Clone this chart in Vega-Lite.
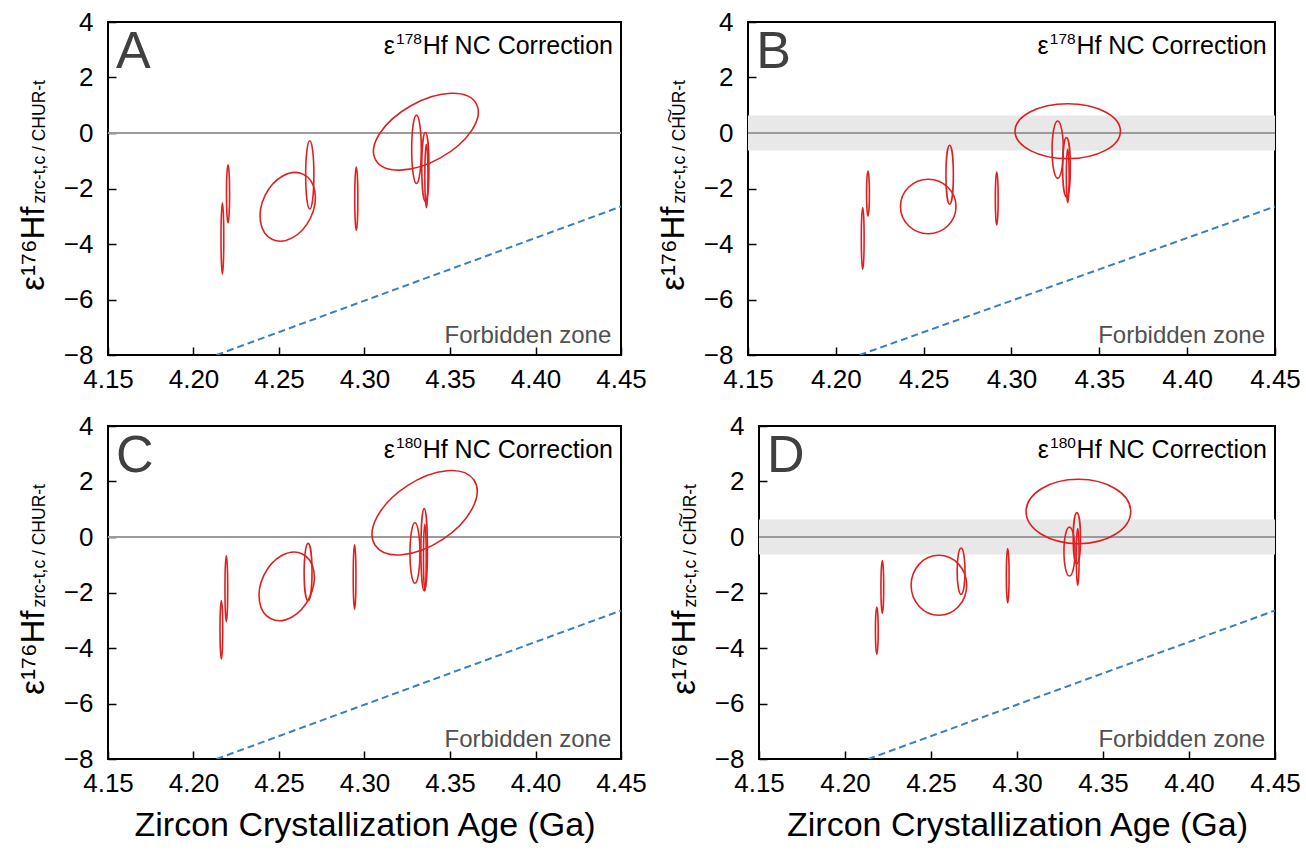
{
"$schema":"https://vega.github.io/schema/vega-lite/v6.json",
"padding":{"left":16,"top":8,"right":0,"bottom":0},
"spacing":19,
"config":{"font":"Liberation Sans","view":{"stroke":"#000","strokeWidth":2},
 "axis":{"labelFont":"Liberation Sans","labelFontSize":26,"labelColor":"#000","tickColor":"#000","tickSize":-8,"tickWidth":1.5,"domain":false,"grid":false,"titleFont":"Liberation Sans","titleColor":"#000","titleFontWeight":"normal","labelFlush":false,"labelOverlap":false},
 "axisX":{"labelPadding":19},"axisY":{"labelPadding":23},
 "text":{"font":"Liberation Sans"}},
"datasets":{
 "dash":[{"x":4.2135,"y":-8},{"x":4.45,"y":-2.65}],
 "ell":[
 {"p":"A","e":1,"k":0,"x":4.2169,"y":-2.52},{"p":"A","e":1,"k":1,"x":4.2177,"y":-3.8},{"p":"A","e":1,"k":2,"x":4.2169,"y":-5.08},{"p":"A","e":1,"k":3,"x":4.2161,"y":-3.8},
 {"p":"A","e":2,"k":0,"x":4.2202,"y":-1.15},{"p":"A","e":2,"k":1,"x":4.2211,"y":-2.195},{"p":"A","e":2,"k":2,"x":4.2202,"y":-3.24},{"p":"A","e":2,"k":3,"x":4.2193,"y":-2.195},
 {"p":"A","e":3,"k":0,"x":4.2643,"y":-1.492},{"p":"A","e":3,"k":1,"x":4.2684,"y":-3.063},{"p":"A","e":3,"k":2,"x":4.2459,"y":-3.827},{"p":"A","e":3,"k":3,"x":4.2418,"y":-2.256},
 {"p":"A","e":4,"k":0,"x":4.268,"y":-0.28},{"p":"A","e":4,"k":1,"x":4.2704,"y":-1.51},{"p":"A","e":4,"k":2,"x":4.268,"y":-2.74},{"p":"A","e":4,"k":3,"x":4.2656,"y":-1.51},
 {"p":"A","e":5,"k":0,"x":4.2952,"y":-1.225},{"p":"A","e":5,"k":1,"x":4.2961,"y":-2.365},{"p":"A","e":5,"k":2,"x":4.2952,"y":-3.505},{"p":"A","e":5,"k":3,"x":4.2943,"y":-2.365},
 {"p":"A","e":6,"k":0,"x":4.3653,"y":1.059},{"p":"A","e":6,"k":1,"x":4.3444,"y":-0.897},{"p":"A","e":6,"k":2,"x":4.3065,"y":-0.966},{"p":"A","e":6,"k":3,"x":4.3274,"y":0.991},
 {"p":"A","e":7,"k":0,"x":4.3304,"y":0.645},{"p":"A","e":7,"k":1,"x":4.3332,"y":-0.587},{"p":"A","e":7,"k":2,"x":4.3304,"y":-1.819},{"p":"A","e":7,"k":3,"x":4.3276,"y":-0.587},
 {"p":"A","e":8,"k":0,"x":4.3356,"y":0.018},{"p":"A","e":8,"k":1,"x":4.3377,"y":-1.225},{"p":"A","e":8,"k":2,"x":4.3356,"y":-2.468},{"p":"A","e":8,"k":3,"x":4.3335,"y":-1.225},
 {"p":"A","e":9,"k":0,"x":4.3362,"y":-0.41},{"p":"A","e":9,"k":1,"x":4.3371,"y":-1.55},{"p":"A","e":9,"k":2,"x":4.3362,"y":-2.69},{"p":"A","e":9,"k":3,"x":4.3353,"y":-1.55},

 {"p":"B","e":1,"k":0,"x":4.2153,"y":-2.69},{"p":"B","e":1,"k":1,"x":4.2161,"y":-3.8},{"p":"B","e":1,"k":2,"x":4.2153,"y":-4.91},{"p":"B","e":1,"k":3,"x":4.2145,"y":-3.8},
 {"p":"B","e":2,"k":0,"x":4.2183,"y":-1.37},{"p":"B","e":2,"k":1,"x":4.2191,"y":-2.18},{"p":"B","e":2,"k":2,"x":4.2183,"y":-2.99},{"p":"B","e":2,"k":3,"x":4.2175,"y":-2.18},
 {"p":"B","e":3,"k":0,"x":4.2526,"y":-1.669},{"p":"B","e":3,"k":1,"x":4.2684,"y":-2.649},{"p":"B","e":3,"k":2,"x":4.2526,"y":-3.629},{"p":"B","e":3,"k":3,"x":4.2368,"y":-2.649},
 {"p":"B","e":4,"k":0,"x":4.2648,"y":-0.443},{"p":"B","e":4,"k":1,"x":4.2669,"y":-1.506},{"p":"B","e":4,"k":2,"x":4.2648,"y":-2.569},{"p":"B","e":4,"k":3,"x":4.2627,"y":-1.506},
 {"p":"B","e":5,"k":0,"x":4.2916,"y":-1.405},{"p":"B","e":5,"k":1,"x":4.2924,"y":-2.36},{"p":"B","e":5,"k":2,"x":4.2916,"y":-3.315},{"p":"B","e":5,"k":3,"x":4.2908,"y":-2.36},
 {"p":"B","e":6,"k":0,"x":4.332,"y":1.055},{"p":"B","e":6,"k":1,"x":4.362,"y":0.065},{"p":"B","e":6,"k":2,"x":4.332,"y":-0.925},{"p":"B","e":6,"k":3,"x":4.302,"y":0.065},
 {"p":"B","e":7,"k":0,"x":4.3263,"y":0.433},{"p":"B","e":7,"k":1,"x":4.3295,"y":-0.601},{"p":"B","e":7,"k":2,"x":4.3263,"y":-1.635},{"p":"B","e":7,"k":3,"x":4.3231,"y":-0.601},
 {"p":"B","e":8,"k":0,"x":4.3313,"y":-0.166},{"p":"B","e":8,"k":1,"x":4.3335,"y":-1.236},{"p":"B","e":8,"k":2,"x":4.3313,"y":-2.306},{"p":"B","e":8,"k":3,"x":4.3291,"y":-1.236},
 {"p":"B","e":9,"k":0,"x":4.332,"y":-0.59},{"p":"B","e":9,"k":1,"x":4.3328,"y":-1.55},{"p":"B","e":9,"k":2,"x":4.332,"y":-2.51},{"p":"B","e":9,"k":3,"x":4.3312,"y":-1.55},

 {"p":"C","e":1,"k":0,"x":4.2163,"y":-2.29},{"p":"C","e":1,"k":1,"x":4.2171,"y":-3.345},{"p":"C","e":1,"k":2,"x":4.2163,"y":-4.4},{"p":"C","e":1,"k":3,"x":4.2155,"y":-3.345},
 {"p":"C","e":2,"k":0,"x":4.2192,"y":-0.68},{"p":"C","e":2,"k":1,"x":4.22,"y":-1.865},{"p":"C","e":2,"k":2,"x":4.2192,"y":-3.05},{"p":"C","e":2,"k":3,"x":4.2184,"y":-1.865},
 {"p":"C","e":3,"k":0,"x":4.2637,"y":-0.612},{"p":"C","e":3,"k":1,"x":4.2678,"y":-2.183},{"p":"C","e":3,"k":2,"x":4.2453,"y":-2.947},{"p":"C","e":3,"k":3,"x":4.2412,"y":-1.376},
 {"p":"C","e":4,"k":0,"x":4.267,"y":-0.229},{"p":"C","e":4,"k":1,"x":4.2693,"y":-1.264},{"p":"C","e":4,"k":2,"x":4.267,"y":-2.299},{"p":"C","e":4,"k":3,"x":4.2647,"y":-1.264},
 {"p":"C","e":5,"k":0,"x":4.2942,"y":-0.28},{"p":"C","e":5,"k":1,"x":4.295,"y":-1.44},{"p":"C","e":5,"k":2,"x":4.2942,"y":-2.6},{"p":"C","e":5,"k":3,"x":4.2934,"y":-1.44},
 {"p":"C","e":6,"k":0,"x":4.3641,"y":2.045},{"p":"C","e":6,"k":1,"x":4.3455,"y":-0.096},{"p":"C","e":6,"k":2,"x":4.3062,"y":-0.297},{"p":"C","e":6,"k":3,"x":4.3249,"y":1.844},
 {"p":"C","e":7,"k":0,"x":4.3295,"y":0.516},{"p":"C","e":7,"k":1,"x":4.3324,"y":-0.574},{"p":"C","e":7,"k":2,"x":4.3295,"y":-1.664},{"p":"C","e":7,"k":3,"x":4.3266,"y":-0.574},
 {"p":"C","e":8,"k":0,"x":4.3349,"y":1.024},{"p":"C","e":8,"k":1,"x":4.3368,"y":-0.456},{"p":"C","e":8,"k":2,"x":4.3349,"y":-1.936},{"p":"C","e":8,"k":3,"x":4.333,"y":-0.456},
 {"p":"C","e":9,"k":0,"x":4.3353,"y":0.457},{"p":"C","e":9,"k":1,"x":4.3361,"y":-0.743},{"p":"C","e":9,"k":2,"x":4.3353,"y":-1.943},{"p":"C","e":9,"k":3,"x":4.3345,"y":-0.743},

 {"p":"D","e":1,"k":0,"x":4.2185,"y":-2.52},{"p":"D","e":1,"k":1,"x":4.2193,"y":-3.37},{"p":"D","e":1,"k":2,"x":4.2185,"y":-4.22},{"p":"D","e":1,"k":3,"x":4.2177,"y":-3.37},
 {"p":"D","e":2,"k":0,"x":4.2217,"y":-0.85},{"p":"D","e":2,"k":1,"x":4.2225,"y":-1.8},{"p":"D","e":2,"k":2,"x":4.2217,"y":-2.75},{"p":"D","e":2,"k":3,"x":4.2209,"y":-1.8},
 {"p":"D","e":3,"k":0,"x":4.2546,"y":-0.66},{"p":"D","e":3,"k":1,"x":4.27076,"y":-1.741},{"p":"D","e":3,"k":2,"x":4.2546,"y":-2.822},{"p":"D","e":3,"k":3,"x":4.23844,"y":-1.741},
 {"p":"D","e":4,"k":0,"x":4.2675,"y":-0.397},{"p":"D","e":4,"k":1,"x":4.2698,"y":-1.232},{"p":"D","e":4,"k":2,"x":4.2675,"y":-2.067},{"p":"D","e":4,"k":3,"x":4.2652,"y":-1.232},
 {"p":"D","e":5,"k":0,"x":4.2946,"y":-0.42},{"p":"D","e":5,"k":1,"x":4.2954,"y":-1.395},{"p":"D","e":5,"k":2,"x":4.2946,"y":-2.37},{"p":"D","e":5,"k":3,"x":4.2938,"y":-1.395},
 {"p":"D","e":6,"k":0,"x":4.3357,"y":2.079},{"p":"D","e":6,"k":1,"x":4.3661,"y":0.919},{"p":"D","e":6,"k":2,"x":4.3357,"y":-0.241},{"p":"D","e":6,"k":3,"x":4.3053,"y":0.919},
 {"p":"D","e":7,"k":0,"x":4.3305,"y":0.36},{"p":"D","e":7,"k":1,"x":4.3337,"y":-0.523},{"p":"D","e":7,"k":2,"x":4.3305,"y":-1.406},{"p":"D","e":7,"k":3,"x":4.3273,"y":-0.523},
 {"p":"D","e":8,"k":0,"x":4.3348,"y":0.877},{"p":"D","e":8,"k":1,"x":4.3369,"y":-0.043},{"p":"D","e":8,"k":2,"x":4.3348,"y":-0.963},{"p":"D","e":8,"k":3,"x":4.3327,"y":-0.043},
 {"p":"D","e":9,"k":0,"x":4.3353,"y":0.3},{"p":"D","e":9,"k":1,"x":4.3361,"y":-0.72},{"p":"D","e":9,"k":2,"x":4.3353,"y":-1.74},{"p":"D","e":9,"k":3,"x":4.3345,"y":-0.72}
 ]},
"vconcat":[
 {"hconcat":[
  {"width":513,"height":333,
   "layer":[
    {"layer":[
     {"data":{"values":[{}]},"mark":{"type":"rule","color":"#9b9b9b","strokeWidth":2},"encoding":{"y":{"datum":0,"type":"quantitative","scale":{"domain":[-8,4],"nice":false,"zero":false}}}},
     {"data":{"name":"dash"},"mark":{"type":"line","color":"#3a7fbf","strokeWidth":2,"strokeDash":[7,4],"clip":true},"encoding":{"x":{"field":"x","type":"quantitative","scale":{"domain":[4.15,4.45],"nice":false,"zero":false}},"y":{"field":"y","type":"quantitative","scale":{"domain":[-8,4],"nice":false,"zero":false}}}},
     {"data":{"name":"ell"},"transform":[{"filter":"datum.p==='A'"}],"mark":{"type":"line","interpolate":"cardinal-closed","tension":-0.657,"color":"#e02020","strokeWidth":1.6},
      "encoding":{"x":{"field":"x","type":"quantitative","scale":{"domain":[4.15,4.45],"nice":false,"zero":false},"axis":{"values":[4.15,4.2,4.25,4.3,4.35,4.4,4.45],"format":".2f","title":null}},
       "y":{"field":"y","type":"quantitative","scale":{"domain":[-8,4],"nice":false,"zero":false},"axis":{"values":[-8,-6,-4,-2,0,2,4],"title":"ε¹⁷⁶Hf","titleFontSize":33,"titleAngle":-90,"titleAlign":"right","titleBaseline":"alphabetic","titleX":-65,"titleY":184}},
       "detail":{"field":"e"},"order":{"field":"k","type":"quantitative"}}},
     {"data":{"values":[{}]},"mark":{"type":"text","text":"A","fontSize":52,"color":"#404040","align":"left","baseline":"alphabetic"},"encoding":{"x":{"datum":4.1547,"type":"quantitative"},"y":{"datum":2.34,"type":"quantitative"}}},
     {"data":{"values":[{}]},"mark":{"type":"text","text":"Hf NC Correction","fontSize":25,"color":"#000","align":"right","baseline":"alphabetic"},"encoding":{"x":{"datum":4.4453,"type":"quantitative"},"y":{"datum":2.85,"type":"quantitative"}}},
     {"data":{"values":[{}]},"mark":{"type":"text","text":"178","fontSize":15.5,"color":"#000","align":"right","baseline":"alphabetic","dx":-191,"dy":-10},"encoding":{"x":{"datum":4.4453,"type":"quantitative"},"y":{"datum":2.85,"type":"quantitative"}}},
     {"data":{"values":[{}]},"mark":{"type":"text","text":"ε","fontSize":25,"color":"#000","align":"right","baseline":"alphabetic","dx":-218},"encoding":{"x":{"datum":4.4453,"type":"quantitative"},"y":{"datum":2.85,"type":"quantitative"}}},
     {"data":{"values":[{}]},"mark":{"type":"text","text":"Forbidden zone","fontSize":24,"color":"#505050","align":"right","baseline":"alphabetic"},"encoding":{"x":{"datum":4.4443,"type":"quantitative"},"y":{"datum":-7.56,"type":"quantitative"}}}
    ]},
    {"data":{"values":[{}]},"mark":{"type":"point","opacity":0},"encoding":{"y":{"datum":0,"type":"quantitative","scale":{"domain":[-8,4],"nice":false,"zero":false},"axis":{"orient":"left","labels":false,"ticks":false,"domain":false,"grid":false,"title":"zrc-t,c / CHUR-t","titleFontSize":17.5,"titleAngle":-90,"titleAlign":"left","titleBaseline":"alphabetic","titleX":-63.5,"titleY":181}}}}
   ],
   "resolve":{"axis":{"y":"independent"}}},
  {"width":527,"height":333,
   "layer":[
    {"layer":[
     {"data":{"values":[{}]},"mark":{"type":"rect","color":"#e8e8e8"},"encoding":{"y":{"datum":-0.63,"type":"quantitative","scale":{"domain":[-8,4],"nice":false,"zero":false}},"y2":{"datum":0.63}}},
     {"data":{"values":[{}]},"mark":{"type":"rule","color":"#9b9b9b","strokeWidth":2},"encoding":{"y":{"datum":0,"type":"quantitative"}}},
     {"data":{"name":"dash"},"mark":{"type":"line","color":"#3a7fbf","strokeWidth":2,"strokeDash":[7,4],"clip":true},"encoding":{"x":{"field":"x","type":"quantitative","scale":{"domain":[4.15,4.45],"nice":false,"zero":false}},"y":{"field":"y","type":"quantitative"}}},
     {"data":{"name":"ell"},"transform":[{"filter":"datum.p==='B'"}],"mark":{"type":"line","interpolate":"cardinal-closed","tension":-0.657,"color":"#e02020","strokeWidth":1.6},
      "encoding":{"x":{"field":"x","type":"quantitative","scale":{"domain":[4.15,4.45],"nice":false,"zero":false},"axis":{"values":[4.15,4.2,4.25,4.3,4.35,4.4,4.45],"format":".2f","title":null}},
       "y":{"field":"y","type":"quantitative","scale":{"domain":[-8,4],"nice":false,"zero":false},"axis":{"values":[-8,-6,-4,-2,0,2,4],"title":"ε¹⁷⁶Hf","titleFontSize":33,"titleAngle":-90,"titleAlign":"right","titleBaseline":"alphabetic","titleX":-65,"titleY":184}},
       "detail":{"field":"e"},"order":{"field":"k","type":"quantitative"}}},
     {"data":{"values":[{}]},"mark":{"type":"text","text":"B","fontSize":52,"color":"#404040","align":"left","baseline":"alphabetic"},"encoding":{"x":{"datum":4.1547,"type":"quantitative"},"y":{"datum":2.34,"type":"quantitative"}}},
     {"data":{"values":[{}]},"mark":{"type":"text","text":"Hf NC Correction","fontSize":25,"color":"#000","align":"right","baseline":"alphabetic"},"encoding":{"x":{"datum":4.4453,"type":"quantitative"},"y":{"datum":2.85,"type":"quantitative"}}},
     {"data":{"values":[{}]},"mark":{"type":"text","text":"178","fontSize":15.5,"color":"#000","align":"right","baseline":"alphabetic","dx":-191,"dy":-10},"encoding":{"x":{"datum":4.4453,"type":"quantitative"},"y":{"datum":2.85,"type":"quantitative"}}},
     {"data":{"values":[{}]},"mark":{"type":"text","text":"ε","fontSize":25,"color":"#000","align":"right","baseline":"alphabetic","dx":-218},"encoding":{"x":{"datum":4.4453,"type":"quantitative"},"y":{"datum":2.85,"type":"quantitative"}}},
     {"data":{"values":[{}]},"mark":{"type":"text","text":"Forbidden zone","fontSize":24,"color":"#505050","align":"right","baseline":"alphabetic"},"encoding":{"x":{"datum":4.4443,"type":"quantitative"},"y":{"datum":-7.56,"type":"quantitative"}}}
    ]},
    {"data":{"values":[{}]},"mark":{"type":"point","opacity":0},"encoding":{"y":{"datum":0,"type":"quantitative","scale":{"domain":[-8,4],"nice":false,"zero":false},"axis":{"orient":"left","labels":false,"ticks":false,"domain":false,"grid":false,"title":"zrc-t,c / CH͠UR-t","titleFontSize":17.5,"titleAngle":-90,"titleAlign":"left","titleBaseline":"alphabetic","titleX":-63.5,"titleY":181}}}}
   ],
   "resolve":{"axis":{"y":"independent"}}}
 ],"spacing":127,"bounds":"flush"},
 {"hconcat":[
  {"width":513,"height":333,
   "layer":[
    {"layer":[
     {"data":{"values":[{}]},"mark":{"type":"rule","color":"#9b9b9b","strokeWidth":2},"encoding":{"y":{"datum":0,"type":"quantitative","scale":{"domain":[-8,4],"nice":false,"zero":false}}}},
     {"data":{"name":"dash"},"mark":{"type":"line","color":"#3a7fbf","strokeWidth":2,"strokeDash":[7,4],"clip":true},"encoding":{"x":{"field":"x","type":"quantitative","scale":{"domain":[4.15,4.45],"nice":false,"zero":false}},"y":{"field":"y","type":"quantitative"}}},
     {"data":{"name":"ell"},"transform":[{"filter":"datum.p==='C'"}],"mark":{"type":"line","interpolate":"cardinal-closed","tension":-0.657,"color":"#e02020","strokeWidth":1.6},
      "encoding":{"x":{"field":"x","type":"quantitative","scale":{"domain":[4.15,4.45],"nice":false,"zero":false},"axis":{"values":[4.15,4.2,4.25,4.3,4.35,4.4,4.45],"format":".2f","title":"Zircon Crystallization Age (Ga)","titleFontSize":34,"titlePadding":12}},
       "y":{"field":"y","type":"quantitative","scale":{"domain":[-8,4],"nice":false,"zero":false},"axis":{"values":[-8,-6,-4,-2,0,2,4],"title":"ε¹⁷⁶Hf","titleFontSize":33,"titleAngle":-90,"titleAlign":"right","titleBaseline":"alphabetic","titleX":-65,"titleY":184}},
       "detail":{"field":"e"},"order":{"field":"k","type":"quantitative"}}},
     {"data":{"values":[{}]},"mark":{"type":"text","text":"C","fontSize":52,"color":"#404040","align":"left","baseline":"alphabetic"},"encoding":{"x":{"datum":4.1547,"type":"quantitative"},"y":{"datum":2.34,"type":"quantitative"}}},
     {"data":{"values":[{}]},"mark":{"type":"text","text":"Hf NC Correction","fontSize":25,"color":"#000","align":"right","baseline":"alphabetic"},"encoding":{"x":{"datum":4.4453,"type":"quantitative"},"y":{"datum":2.85,"type":"quantitative"}}},
     {"data":{"values":[{}]},"mark":{"type":"text","text":"180","fontSize":15.5,"color":"#000","align":"right","baseline":"alphabetic","dx":-191,"dy":-10},"encoding":{"x":{"datum":4.4453,"type":"quantitative"},"y":{"datum":2.85,"type":"quantitative"}}},
     {"data":{"values":[{}]},"mark":{"type":"text","text":"ε","fontSize":25,"color":"#000","align":"right","baseline":"alphabetic","dx":-218},"encoding":{"x":{"datum":4.4453,"type":"quantitative"},"y":{"datum":2.85,"type":"quantitative"}}},
     {"data":{"values":[{}]},"mark":{"type":"text","text":"Forbidden zone","fontSize":24,"color":"#505050","align":"right","baseline":"alphabetic"},"encoding":{"x":{"datum":4.4443,"type":"quantitative"},"y":{"datum":-7.56,"type":"quantitative"}}}
    ]},
    {"data":{"values":[{}]},"mark":{"type":"point","opacity":0},"encoding":{"y":{"datum":0,"type":"quantitative","scale":{"domain":[-8,4],"nice":false,"zero":false},"axis":{"orient":"left","labels":false,"ticks":false,"domain":false,"grid":false,"title":"zrc-t,c / CHUR-t","titleFontSize":17.5,"titleAngle":-90,"titleAlign":"left","titleBaseline":"alphabetic","titleX":-63.5,"titleY":181}}}}
   ],
   "resolve":{"axis":{"y":"independent"}}},
  {"width":516,"height":333,
   "layer":[
    {"layer":[
     {"data":{"values":[{}]},"mark":{"type":"rect","color":"#e8e8e8"},"encoding":{"y":{"datum":-0.63,"type":"quantitative","scale":{"domain":[-8,4],"nice":false,"zero":false}},"y2":{"datum":0.63}}},
     {"data":{"values":[{}]},"mark":{"type":"rule","color":"#9b9b9b","strokeWidth":2},"encoding":{"y":{"datum":0,"type":"quantitative"}}},
     {"data":{"name":"dash"},"mark":{"type":"line","color":"#3a7fbf","strokeWidth":2,"strokeDash":[7,4],"clip":true},"encoding":{"x":{"field":"x","type":"quantitative","scale":{"domain":[4.15,4.45],"nice":false,"zero":false}},"y":{"field":"y","type":"quantitative"}}},
     {"data":{"name":"ell"},"transform":[{"filter":"datum.p==='D'"}],"mark":{"type":"line","interpolate":"cardinal-closed","tension":-0.657,"color":"#e02020","strokeWidth":1.6},
      "encoding":{"x":{"field":"x","type":"quantitative","scale":{"domain":[4.15,4.45],"nice":false,"zero":false},"axis":{"values":[4.15,4.2,4.25,4.3,4.35,4.4,4.45],"format":".2f","title":"Zircon Crystallization Age (Ga)","titleFontSize":34,"titlePadding":12}},
       "y":{"field":"y","type":"quantitative","scale":{"domain":[-8,4],"nice":false,"zero":false},"axis":{"values":[-8,-6,-4,-2,0,2,4],"title":"ε¹⁷⁶Hf","titleFontSize":33,"titleAngle":-90,"titleAlign":"right","titleBaseline":"alphabetic","titleX":-65,"titleY":184}},
       "detail":{"field":"e"},"order":{"field":"k","type":"quantitative"}}},
     {"data":{"values":[{}]},"mark":{"type":"text","text":"D","fontSize":52,"color":"#404040","align":"left","baseline":"alphabetic"},"encoding":{"x":{"datum":4.1547,"type":"quantitative"},"y":{"datum":2.34,"type":"quantitative"}}},
     {"data":{"values":[{}]},"mark":{"type":"text","text":"Hf NC Correction","fontSize":25,"color":"#000","align":"right","baseline":"alphabetic"},"encoding":{"x":{"datum":4.4453,"type":"quantitative"},"y":{"datum":2.85,"type":"quantitative"}}},
     {"data":{"values":[{}]},"mark":{"type":"text","text":"180","fontSize":15.5,"color":"#000","align":"right","baseline":"alphabetic","dx":-191,"dy":-10},"encoding":{"x":{"datum":4.4453,"type":"quantitative"},"y":{"datum":2.85,"type":"quantitative"}}},
     {"data":{"values":[{}]},"mark":{"type":"text","text":"ε","fontSize":25,"color":"#000","align":"right","baseline":"alphabetic","dx":-218},"encoding":{"x":{"datum":4.4453,"type":"quantitative"},"y":{"datum":2.85,"type":"quantitative"}}},
     {"data":{"values":[{}]},"mark":{"type":"text","text":"Forbidden zone","fontSize":24,"color":"#505050","align":"right","baseline":"alphabetic"},"encoding":{"x":{"datum":4.4443,"type":"quantitative"},"y":{"datum":-7.56,"type":"quantitative"}}}
    ]},
    {"data":{"values":[{}]},"mark":{"type":"point","opacity":0},"encoding":{"y":{"datum":0,"type":"quantitative","scale":{"domain":[-8,4],"nice":false,"zero":false},"axis":{"orient":"left","labels":false,"ticks":false,"domain":false,"grid":false,"title":"zrc-t,c / CH͠UR-t","titleFontSize":17.5,"titleAngle":-90,"titleAlign":"left","titleBaseline":"alphabetic","titleX":-63.5,"titleY":181}}}}
   ],
   "resolve":{"axis":{"y":"independent"}}}
 ],"spacing":138,"bounds":"flush"}
]
}
